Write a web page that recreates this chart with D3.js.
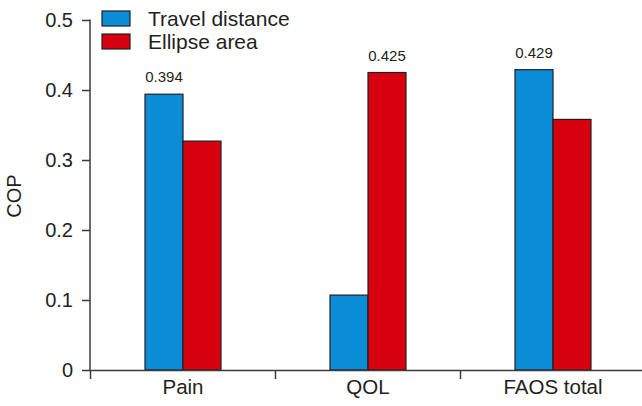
<!DOCTYPE html>
<html>
<head>
<meta charset="utf-8">
<script src="https://cdn.jsdelivr.net/npm/d3@7"></script>
<style>
  body { margin: 0; background: #fff; }
  text { font-family: "Liberation Sans", Arial, sans-serif; fill: #231f20; }
</style>
</head>
<body>
<svg class="chart" width="642" height="406"></svg>
<script>
// données
let categories = ["Pain", "QOL", "FAOS total"];
let series = ["Travel distance", "Ellipse area"];
let travel = [0.394, 0.107, 0.429];
let ellipse = [0.327, 0.425, 0.358];
let yTicks = [0, 0.1, 0.2, 0.3, 0.4, 0.5];
// labels affichés au-dessus des barres (catégorie, série)
let shownLabels = [["Pain", "Travel distance"], ["QOL", "Ellipse area"], ["FAOS total", "Travel distance"]];

let colors = {"Travel distance": "#0a8cd7", "Ellipse area": "#d7000f"};
let axisColor = "#3d3a3b";

let svg = d3.select(".chart");

let data = categories.map(function(c, i) {
  return {cat: c, values: [
    {key: series[0], value: travel[i]},
    {key: series[1], value: ellipse[i]}
  ]};
});

// échelles
let x0 = d3.scaleBand().domain(categories).range([90.5, 645.5]);
let x1 = d3.scaleBand().domain(series)
  .range([x0.bandwidth() / 2 - 38, x0.bandwidth() / 2 + 38]);
let y = d3.scaleLinear().domain([0, 0.5]).range([370, 20]);

// axe y
let yAxis = svg.append("g")
  .attr("transform", "translate(90,0)")
  .call(d3.axisLeft(y).tickValues(yTicks).tickSize(8).tickPadding(9)
    .tickFormat(function(d) { return d === 0 ? "0" : d3.format(".1f")(d); }));
yAxis.select(".domain").attr("stroke", axisColor).attr("stroke-width", 1.5).attr("d", "M0,19.5V370");
yAxis.selectAll(".tick line").attr("stroke", axisColor).attr("stroke-width", 1.5);
yAxis.selectAll(".tick text").style("font-size", "20px").attr("fill", "#231f20");

// barres
let groups = svg.selectAll(".grp")
  .data(data)
  .enter().append("g")
    .attr("class", "grp")
    .attr("transform", function(d) { return `translate(${x0(d.cat)},0)`; });

groups.selectAll("rect")
  .data(function(d) { return d.values; })
  .enter().append("rect")
    .attr("x", function(d) { return x1(d.key); })
    .attr("y", function(d) { return y(d.value); })
    .attr("width", x1.bandwidth())
    .attr("height", function(d) { return y(0) - y(d.value); })
    .attr("fill", function(d) { return colors[d.key]; })
    .attr("stroke", "#231f20")
    .attr("stroke-width", 1.2);

// valeurs au-dessus
groups.selectAll(".val")
  .data(function(d) {
    return d.values.filter(function(v) {
      return shownLabels.some(function(s) { return s[0] === d.cat && s[1] === v.key; });
    });
  })
  .enter().append("text")
    .attr("class", "val")
    .attr("x", function(d) { return x1(d.key) + x1.bandwidth() / 2; })
    .attr("y", function(d) { return y(d.value) - 12; })
    .attr("text-anchor", "middle")
    .style("font-size", "15px")
    .text(function(d) { return d3.format(".3f")(d.value); });

// axe x
let xAxis = svg.append("g")
  .attr("transform", "translate(0,370)")
  .call(d3.axisBottom(x0).tickSize(0).tickPadding(9));
xAxis.select(".domain").attr("stroke", axisColor).attr("stroke-width", 1.5);
xAxis.selectAll(".tick text").style("font-size", "20.5px").attr("fill", "#231f20");
xAxis.selectAll(".sep")
  .data(categories)
  .enter().append("line")
    .attr("class", "sep")
    .attr("x1", function(d) { return x0(d); })
    .attr("x2", function(d) { return x0(d); })
    .attr("y1", 0)
    .attr("y2", 9)
    .attr("stroke", axisColor)
    .attr("stroke-width", 1.5);

// titre axe y
svg.append("text")
  .attr("transform", "translate(21,196) rotate(-90)")
  .attr("text-anchor", "middle")
  .style("font-size", "20px")
  .text("COP");

// légende
let legend = svg.selectAll(".leg")
  .data(series)
  .enter().append("g")
    .attr("class", "leg")
    .attr("transform", function(d, i) { return `translate(102,${11 + i * 23})`; });
legend.append("rect")
  .attr("width", 28)
  .attr("height", 15)
  .attr("fill", function(d) { return colors[d]; })
  .attr("stroke", "#231f20")
  .attr("stroke-width", 1.2);
legend.append("text")
  .attr("x", 46)
  .attr("y", 15)
  .style("font-size", "21px")
  .text(function(d) { return d; });
</script>
</body>
</html>
